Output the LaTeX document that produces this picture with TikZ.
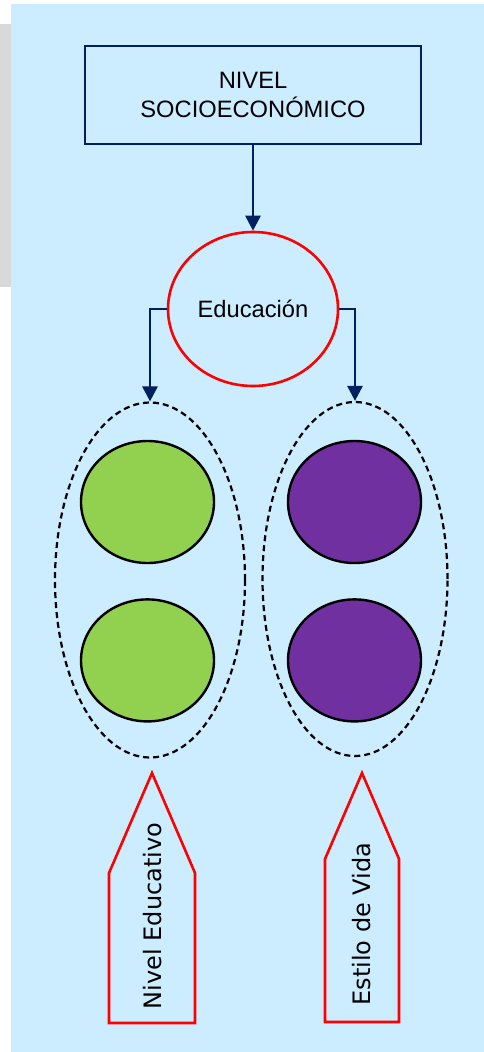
\documentclass[tikz,border=0pt]{standalone}
\usepackage{fontspec}
\setmainfont{Liberation Sans}
\newfontfamily\etiqfont{DejaVu Sans}
\usepackage{xcolor}
\usetikzlibrary{shapes.geometric, arrows.meta, positioning}

\definecolor{fondo}{HTML}{CCECFF}
\definecolor{gris}{HTML}{D9D9D9}
\definecolor{marino}{HTML}{002060}
\definecolor{verde}{HTML}{92D050}
\definecolor{morado}{HTML}{7030A0}

\begin{document}
\begin{tikzpicture}[
        x=1pt, y=-1pt,
        nivelbox/.style={
            rectangle,
            draw=marino,
            line width=2.4pt,
            minimum width=336pt,
            minimum height=98pt,
            align=center,
            font=\fontsize{23.7}{29}\selectfont
        },
        eduellipse/.style={
            ellipse,
            draw=red,
            line width=2.6pt,
            minimum width=170pt,
            minimum height=154pt,
            inner sep=0pt,
            font=\fontsize{23.7}{29}\selectfont
        },
        grupo/.style={
            ellipse,
            draw=black,
            line width=2.2pt,
            dash pattern=on 6pt off 4pt,
            inner sep=0pt
        },
        bola/.style={
            ellipse,
            draw=black,
            line width=2.4pt,
            minimum width=133pt,
            minimum height=122pt,
            inner sep=0pt
        },
        etiqueta/.style={
            draw=red,
            line width=2.6pt,
            line join=miter
        },
        etiqtexto/.style={
            rotate=90,
            inner sep=0pt,
            font=\etiqfont\fontsize{24}{28}\selectfont
        },
        arrow/.style={-{Triangle[length=15pt,width=15pt]}, line width=2.8pt, draw=marino}
    ]

    \useasboundingbox (0,0) rectangle (484,1052);
    \fill [gris] (0,24) rectangle (11,287);
    \fill [fondo] (11,4) rectangle (484,1052);

    \node (nse) [nivelbox] at (253,95) {NIVEL\\SOCIOECONÓMICO};
    \node (edu) [eduellipse] at (253,309) {Educación};

    % grupos
    \node (grpL) [grupo, minimum width=190pt, minimum height=355pt] at (150,580) {};
    \node (grpR) [grupo, minimum width=185pt, minimum height=354pt] at (355,579) {};

    \node (vL1) [bola, fill=verde] at (147.5,502) {};
    \node (vL2) [bola, fill=verde, below=34pt of vL1] {};
    \node (mR1) [bola, fill=morado] at (354.5,502) {};
    \node (mR2) [bola, fill=morado, below=34pt of mR1] {};

    \draw [arrow] (nse) -- (edu);
    \draw [arrow] (edu.west) -| (grpL.north);
    \draw [arrow] (edu.east) -| (grpR.north);

    % etiquetas
    \draw [etiqueta] (152,773) -- (195,873) -- (195,1023) -- (109,1023) -- (109,873) -- cycle;
    \draw [etiqueta] (362,773) -- (399,859) -- (399,1022) -- (325,1022) -- (325,859) -- cycle;
    \node (lblNE) [etiqtexto] at (153,916) {Nivel Educativo};
    \node (lblEV) [etiqtexto] at (362,924) {Estilo de Vida};

    \end{tikzpicture}
\end{document}
